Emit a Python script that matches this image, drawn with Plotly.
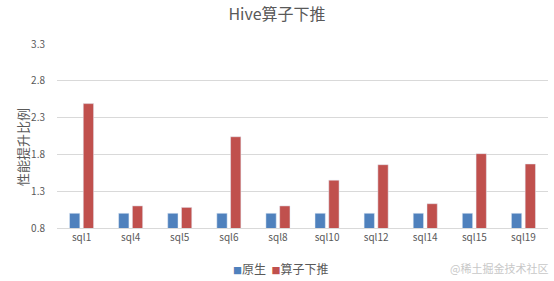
import plotly.graph_objects as go

categories = ["sql1", "sql4", "sql5", "sql6", "sql8", "sql10", "sql12", "sql14", "sql15", "sql19"]
native = [1.0, 1.0, 1.0, 1.0, 1.0, 1.0, 1.0, 1.0, 1.0, 1.0]
pushdown = [2.49, 1.10, 1.08, 2.04, 1.10, 1.45, 1.66, 1.13, 1.81, 1.67]
y_ticks = [0.8, 1.3, 1.8, 2.3, 2.8, 3.3]
series_names = ["原生", "算子下推"]
series_colors = ["#4F81BD", "#C0504D"]

fig = go.Figure()
for name, vals, col in zip(series_names, [native, pushdown], series_colors):
    fig.add_trace(go.Bar(name=name, x=categories, y=vals, marker_color=col))

font_family = "Noto Sans CJK SC, Liberation Sans, sans-serif"
W, H = 554, 281
L, R, T, B = 57, 6, 44, 53
pw, ph = W - L - R, H - T - B

fig.update_layout(
    width=W, height=H,
    margin=dict(l=L, r=R, t=T, b=B),
    paper_bgcolor="white", plot_bgcolor="white",
    barmode="group", bargap=0.44, bargroupgap=0.25,
    font=dict(family=font_family, color="#595959", size=10),
    title=dict(text="Hive算子下推", x=0.5, xanchor="center", y=0.95, yanchor="middle",
               font=dict(size=16, color="#595959")),
    showlegend=False,
)
fig.update_yaxes(range=[0.8, 3.3], tickvals=y_ticks, ticktext=[f"{v:.1f}" for v in y_ticks],
                 showgrid=True, gridcolor="#D9D9D9", gridwidth=1, zeroline=False,
                 showline=False, ticks="outside", ticklen=9, tickcolor="rgba(0,0,0,0)",
                 tickfont=dict(size=10, color="#595959"), automargin=False)
fig.update_xaxes(showline=True, linecolor="#D9D9D9", ticks="", automargin=False,
                 tickfont=dict(size=10, color="#595959"))

# y-axis title
fig.add_annotation(text="性能提升比例", xref="paper", yref="paper",
                   x=(22 - L) / pw, y=(H - B - 147) / ph, xanchor="center", yanchor="middle",
                   textangle=-90, showarrow=False, font=dict(size=13, color="#595959"))
# legend (built from series names/colors)
legend_html = "  ".join(f"<span style='color:{c};font-size:9px'>■</span>{n}"
                        for n, c in zip(series_names, series_colors))
fig.add_annotation(text=legend_html, xref="paper", yref="paper",
                   x=(231 - L) / pw, y=-(268 - (H - B)) / ph, xanchor="left", yanchor="middle",
                   showarrow=False, font=dict(size=12, color="#595959"))
# watermark
fig.add_annotation(text="@稀土掘金技术社区", xref="paper", yref="paper", x=1.005, y=-(268 - (H - B)) / ph,
                   xanchor="right", yanchor="middle", showarrow=False,
                   font=dict(size=11, color="#C8C8C8"))
fig.write_html("out.html")
